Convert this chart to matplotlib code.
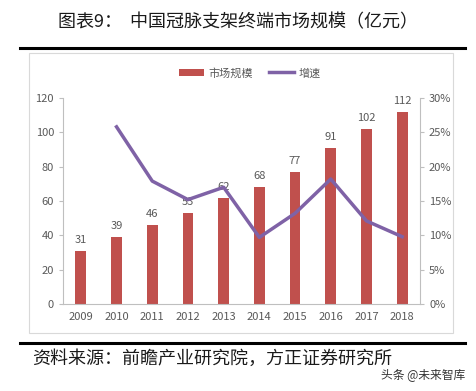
import matplotlib.pyplot as plt
from matplotlib.patches import Rectangle
from matplotlib.lines import Line2D

plt.rcParams['font.family'] = ['Noto Sans CJK SC', 'DejaVu Sans']

years = ['2009', '2010', '2011', '2012', '2013', '2014', '2015', '2016', '2017', '2018']
market = [31, 39, 46, 53, 62, 68, 77, 91, 102, 112]
growth_years = ['2010', '2011', '2012', '2013', '2014', '2015', '2016', '2017', '2018']
growth = [25.8, 17.9, 15.2, 17.0, 9.7, 13.2, 18.2, 12.1, 9.8]

bar_color = '#C0504D'
line_color = '#7F62A6'
grey = '#595959'
axis_grey = '#BFBFBF'

fig = plt.figure(figsize=(4.76, 3.91), dpi=100)

# frame lines and chart box
fig.add_artist(Line2D([20/476, 465/476], [1-48/391, 1-48/391], color='black', lw=2.2))
fig.add_artist(Line2D([20/476, 465/476], [1-343/391, 1-343/391], color='black', lw=2.2))
fig.add_artist(Rectangle((29/476, 1-333/391), 424/476, 280/391, fill=False,
                         ec='#D9D9D9', lw=0.8))

fig.text(238/476, 1-22/391, '图表9：  中国冠脉支架终端市场规模（亿元）', ha='center', va='center',
         fontsize=13, color='#1a1a1a')
fig.text(32/476, 1-359/391, '资料来源：前瞻产业研究院，方正证券研究所', ha='left', va='center',
         fontsize=13, color='#1a1a1a', style='italic')
fig.text(465/476, 1-376/391, '头条 @未来智库', ha='right', va='center', fontsize=8.5, color='#333333')

ax = fig.add_axes([63/476, 1-304/391, 357/476, 206/391])
x = list(range(len(years)))
bars = ax.bar(x, market, width=0.3, color=bar_color, label='市场规模')
for xi, v in zip(x, market):
    ax.text(xi, v + 3.5, str(v), ha='center', va='bottom', fontsize=8, color=grey)

ax.set_ylim(0, 120)
ax.set_yticks(range(0, 121, 20))
ax.set_xlim(-0.5, len(years) - 0.5)
ax.set_xticks(x)
ax.set_xticklabels(years)
ax.tick_params(axis='y', colors=axis_grey, labelcolor=grey, labelsize=8, length=3)
ax.tick_params(axis='x', length=0, labelcolor=grey, labelsize=8, pad=6)
for s in ['top', 'right']:
    ax.spines[s].set_visible(False)
for s in ['left', 'bottom']:
    ax.spines[s].set_color(axis_grey)

ax2 = ax.twinx()
gx = [years.index(y) for y in growth_years]
ax2.plot(gx, growth, color=line_color, lw=2.5, label='增速')
ax2.set_ylim(0, 30)
ax2.set_yticks(range(0, 31, 5))
ax2.set_yticklabels([f'{v}%' for v in range(0, 31, 5)])
ax2.tick_params(axis='y', colors=axis_grey, labelcolor=grey, labelsize=8, length=3)
for s in ['top', 'left', 'bottom']:
    ax2.spines[s].set_visible(False)
ax2.spines['right'].set_color(axis_grey)

handles = [bars, ax2.get_lines()[0]]
fig.legend(handles, ['市场规模', '增速'], loc='center', bbox_to_anchor=(250/476, 1-73/391),
           ncol=2, frameon=False, fontsize=8, labelcolor=grey, handlelength=2.2,
           columnspacing=1.5, handletextpad=0.4)

fig.savefig('out.png', dpi=100)
